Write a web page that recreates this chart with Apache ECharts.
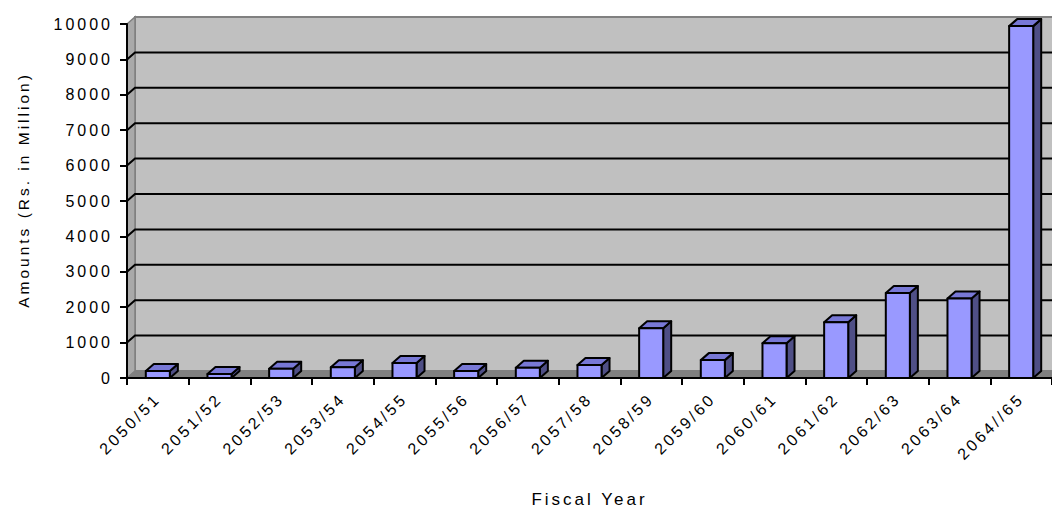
<!DOCTYPE html>
<html>
<head>
<meta charset="utf-8">
<script src="https://cdn.jsdelivr.net/npm/echarts@6/dist/echarts.min.js"></script>
<style>
  html, body { margin: 0; padding: 0; background: #ffffff; }
  #chart { width: 1052px; height: 513px; }
  #chart text { letter-spacing: 3px; }
</style>
</head>
<body>
<div id="chart"></div>
<script>
// Fiscal years (Bikram Sambat) and amounts in Rs. million
const fiscalYears = ['2050/51', '2051/52', '2052/53', '2053/54', '2054/55', '2055/56', '2056/57',
  '2057/58', '2058/59', '2059/60', '2060/61', '2061/62', '2062/63', '2063/64', '2064//65'];
const amounts = [195, 110, 260, 305, 425, 195, 290, 365, 1405, 505, 985, 1575, 2400, 2245, 9940];
const yMin = 0;
const yMax = 10000;
const yStep = 1000;

// depth of the pseudo-3D walls and columns, in pixels
const DX = 8;
const DY = -7;
const FONT = "'Liberation Sans', Arial, sans-serif";

const chart = echarts.init(document.getElementById('chart'), null, { renderer: 'svg' });

function renderWalls(params, api) {
  const cs = params.coordSys;
  const x = cs.x, y = cs.y, w = cs.width, h = cs.height;
  const children = [];
  // back wall
  children.push({
    type: 'rect',
    shape: { x: x + DX, y: y + DY, width: w, height: h },
    style: { fill: '#c0c0c0', stroke: '#808080', lineWidth: 2 }
  });
  // left wall
  children.push({
    type: 'polygon',
    shape: { points: [[x, y], [x + DX, y + DY], [x + DX, y + h + DY], [x, y + h]] },
    style: { fill: '#a9a9a9', stroke: '#808080', lineWidth: 1.5 }
  });
  // floor
  children.push({
    type: 'polygon',
    shape: { points: [[x, y + h], [x + DX, y + h + DY], [x + w + DX, y + h + DY], [x + w, y + h]] },
    style: { fill: '#808080', stroke: '#808080', lineWidth: 1 }
  });
  // gridlines along the left wall and the back wall
  for (let v = yMin + yStep; v < yMax; v += yStep) {
    const yy = api.coord([0, v])[1];
    children.push({
      type: 'polyline',
      shape: { points: [[x, yy], [x + DX, yy + DY], [x + w + DX, yy + DY]] },
      style: { fill: null, stroke: '#000000', lineWidth: 2 }
    });
  }
  return { type: 'group', children: children };
}

function renderColumn(params, api) {
  const i = api.value(0);
  const v = api.value(1);
  const base = api.coord([i, 0]);
  const top = api.coord([i, v]);
  const bw = api.size([1, 0])[0] * 0.39;
  const x0 = base[0] - bw / 2;
  const x1 = x0 + bw;
  const ty = top[1];
  const by = base[1];
  const edge = { stroke: '#000000', lineWidth: 2, lineJoin: 'round' };
  return {
    type: 'group',
    children: [
      {
        type: 'polygon',
        shape: { points: [[x1, ty], [x1 + DX, ty + DY], [x1 + DX, by + DY], [x1, by]] },
        style: Object.assign({ fill: '#4f4f86' }, edge)
      },
      {
        type: 'polygon',
        shape: { points: [[x0, ty], [x0 + DX, ty + DY], [x1 + DX, ty + DY], [x1, ty]] },
        style: Object.assign({ fill: '#7878d6' }, edge)
      },
      {
        type: 'rect',
        shape: { x: x0, y: ty, width: bw, height: by - ty },
        style: Object.assign({ fill: '#9999ff' }, edge)
      }
    ]
  };
}

chart.setOption({
  animation: false,
  backgroundColor: '#ffffff',
  grid: { left: 127, top: 24, width: 927, height: 358, containLabel: false },
  xAxis: {
    type: 'category',
    data: fiscalYears,
    boundaryGap: true,
    name: 'Fiscal Year',
    nameLocation: 'middle',
    nameGap: 113,
    nameTextStyle: { fontFamily: FONT, fontSize: 17, color: '#000000' },
    axisLine: { show: true, lineStyle: { color: '#000000', width: 2 } },
    axisTick: { show: true, interval: 0, length: 7, lineStyle: { color: '#000000', width: 2 } },
    axisLabel: { interval: 0, rotate: 45, margin: 18, fontFamily: FONT, fontSize: 16, color: '#000000' },
    splitLine: { show: false }
  },
  yAxis: {
    type: 'value',
    min: yMin,
    max: yMax,
    interval: yStep,
    name: 'Amounts (Rs. in Million)',
    nameLocation: 'middle',
    nameGap: 96,
    nameTextStyle: { fontFamily: FONT, fontSize: 15.5, color: '#000000', padding: [0, 0, 0, 22] },
    axisLine: { show: true, lineStyle: { color: '#000000', width: 2 } },
    axisTick: { show: true, length: 7, lineStyle: { color: '#000000', width: 2 } },
    axisLabel: {
      margin: 14, fontFamily: FONT, fontSize: 16, color: '#000000',
      formatter: function (v) { return String(v); }
    },
    splitLine: { show: false }
  },
  series: [
    {
      type: 'custom',
      name: 'walls',
      z: -1,
      silent: true,
      renderItem: renderWalls,
      data: [[0, 0]]
    },
    {
      type: 'custom',
      name: 'Amount',
      z: 3,
      renderItem: renderColumn,
      encode: { x: 0, y: 1 },
      data: amounts.map(function (v, i) { return [i, v]; })
    }
  ]
});
</script>
</body>
</html>
